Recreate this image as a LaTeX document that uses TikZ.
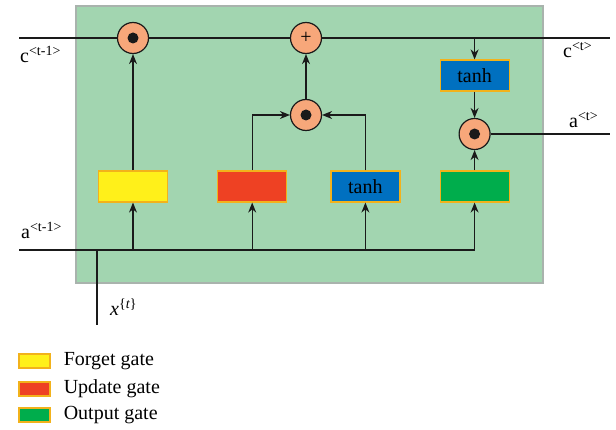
\documentclass[tikz,border=0pt]{standalone}
\usepackage{fontspec}
\setmainfont{Liberation Serif}
\usetikzlibrary{positioning,arrows.meta}
\definecolor{lstmCell}{HTML}{A2D5B0}
\definecolor{lstmEdge}{HTML}{A9B3AD}
\definecolor{lstmOp}{HTML}{F7A77A}
\definecolor{lstmForget}{HTML}{FFF01A}
\definecolor{lstmUpdate}{HTML}{EE4123}
\definecolor{lstmTanh}{HTML}{0070C0}
\definecolor{lstmOutput}{HTML}{00AD4C}
\definecolor{lstmGateEdge}{HTML}{F2B21B}
\definecolor{lstmInk}{HTML}{1A1A1A}
\tikzset{
  cellbox/.style  = {draw=lstmEdge, line width=1.5pt, fill=lstmCell},
  gatebox/.style  = {draw=lstmGateEdge, line width=1.2pt, minimum width=69pt,
                     minimum height=31pt, inner sep=0pt,
                     font=\fontsize{20}{24}\selectfont},
  opnode/.style   = {circle, draw=lstmInk, line width=1.2pt, fill=lstmOp,
                     minimum size=31pt, inner sep=0pt,
                     font=\fontsize{20}{22}\selectfont},
  dotnode/.style  = {opnode, path picture={\fill[lstmInk]
                     (path picture bounding box.center) circle (5.5pt);}},
  flow/.style     = {-{Stealth[length=10pt, width=8pt]}, line width=1.3pt,
                     draw=lstmInk},
  wire/.style     = {line width=1.3pt, draw=lstmInk},
  lbl/.style      = {font=\fontsize{20}{24}\selectfont, inner sep=0pt},
  keybox/.style   = {draw=lstmGateEdge, line width=1.2pt, minimum width=31pt,
                     minimum height=14pt, inner sep=0pt},
}

\begin{document}
\begin{tikzpicture}[x=1pt, y=-1pt]
  \useasboundingbox (0,0) rectangle (616,430);
  \draw[cellbox] (76,6) rectangle (543,283);

  \coordinate (cin)  at (19,38);
  \coordinate (cout) at (610,38);
  \coordinate (ain)  at (19,250);
  \coordinate (aout) at (610,134);
  \coordinate (xin)  at (97,325);

  % gates
  \node[gatebox, fill=lstmForget] (forget) at (133,186.5) {};
  \node[gatebox, fill=lstmUpdate, right=49pt of forget] (update) {};
  \node[gatebox, fill=lstmTanh, right=43pt of update] (tanhg) {tanh};
  \node[gatebox, fill=lstmOutput, right=39pt of tanhg] (output) {};

  % pointwise operations
  \node[dotnode] (fmul) at (forget |- cin) {};
  \node[opnode] (plus) at (306,38) {+};
  \node[dotnode] (umul) at (306,115) {};
  \node[gatebox, fill=lstmTanh] (tanhc) at (output |- 0,75.5) {tanh};
  \node[dotnode] (omul) at (output |- aout) {};

  \draw[wire] (cin) -- (fmul) -- (plus) -- (cout);
  \draw[wire] (ain) -- (ain -| output);
  \draw[wire] (xin) -- (xin |- ain);
  \draw[wire] (omul) -- (aout);

  \draw[flow] (forget |- ain) -- (forget);
  \draw[flow] (update |- ain) -- (update);
  \draw[flow] (tanhg |- ain) -- (tanhg);
  \draw[flow] (output |- ain) -- (output);

  \draw[flow] (forget) -- (fmul);
  \draw[flow] (update.north) |- (umul.west);
  \draw[flow] (tanhg.north) |- (umul.east);
  \draw[flow] (umul) -- (plus);
  \draw[flow] (tanhc |- cin) -- (tanhc);
  \draw[flow] (tanhc) -- (omul);
  \draw[flow] (output) -- (omul);

  \node[lbl, anchor=base west] (cprev) at (20,63) {c\textsuperscript{<t-1>}};
  \node[lbl, anchor=base west] (cnext) at (563,58) {c\textsuperscript{<t>}};
  \node[lbl, anchor=base west] (anext) at (569,128) {a\textsuperscript{<t>}};
  \node[lbl, anchor=base west] (aprev) at (21,239) {a\textsuperscript{<t-1>}};
  \node[lbl, anchor=base west] (xlbl) at (110,316)
    {\textit{x}\textsuperscript{\{\textit{t}\}}};

  % legend
  \node[keybox, fill=lstmForget] (keyF) at (34.5,361) {};
  \node[keybox, fill=lstmUpdate] (keyU) at (34.5,389) {};
  \node[keybox, fill=lstmOutput] (keyO) at (34.5,415) {};
  \node[lbl, right=13pt of keyF] (txtF) {Forget gate};
  \node[lbl, right=13pt of keyU] (txtU) {Update gate};
  \node[lbl, right=13pt of keyO] (txtO) {Output gate};
\end{tikzpicture}
\end{document}
